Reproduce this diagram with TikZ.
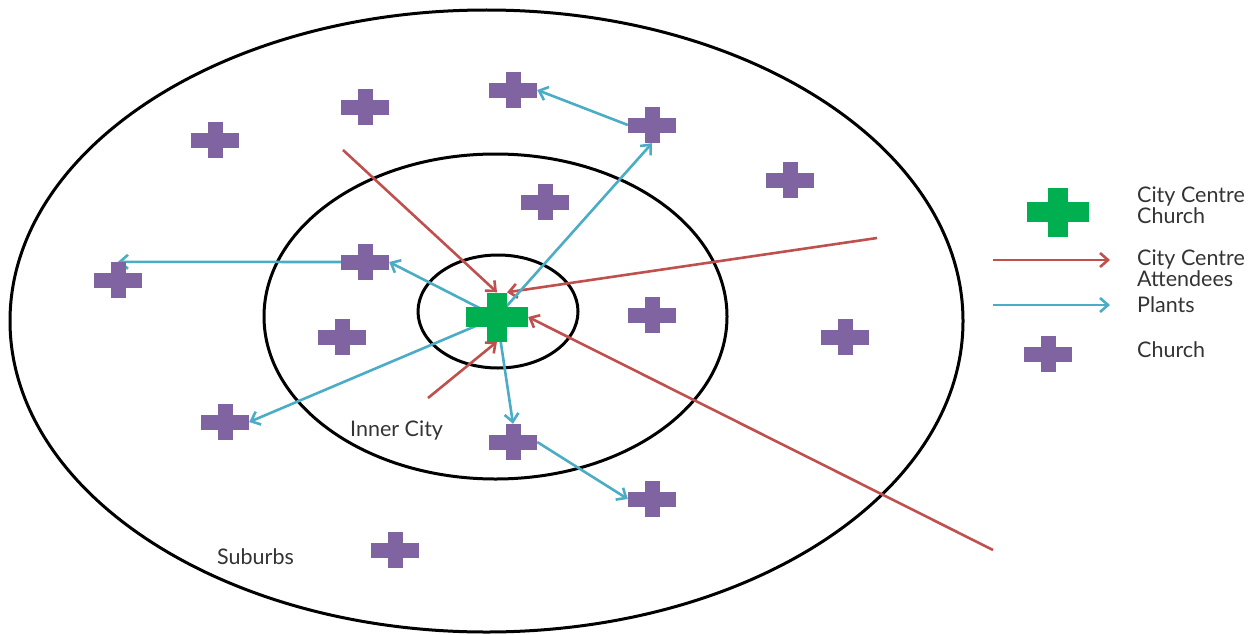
\documentclass[tikz,border=0pt]{standalone}
\usepackage{xcolor}
\usepackage{fontspec}
\setmainfont{Lato}
\usepackage{tikz}
\usetikzlibrary{arrows.meta,positioning,backgrounds}

\definecolor{churchpurple}{HTML}{8064A2}
\definecolor{centregreen}{HTML}{00B050}
\definecolor{attendred}{HTML}{C0504D}
\definecolor{plantblue}{HTML}{4BACC6}

% plus sign inside a node: half width, half height, half arm, colour
\newcommand{\plusshape}[4]{%
  \fill[#4] ([shift={(-#1,-#3)}]path picture bounding box.center) rectangle ([shift={(#1,#3)}]path picture bounding box.center);
  \fill[#4] ([shift={(-#3,-#2)}]path picture bounding box.center) rectangle ([shift={(#3,#2)}]path picture bounding box.center);}

\begin{document}
\begin{tikzpicture}[
    x=1pt, y=-1pt,
    font=\fontsize{21.5}{21.5}\selectfont,
    church/.style={rectangle, minimum width=48pt, minimum height=36pt, inner sep=0pt,
        path picture={\plusshape{24pt}{18pt}{7.5pt}{churchpurple}}},
    centre/.style={rectangle, minimum width=62pt, minimum height=49pt, inner sep=0pt,
        path picture={\plusshape{31pt}{24.5pt}{10pt}{centregreen}}},
    ring/.style={draw=black, line width=3pt},
    attend/.style={-{Straight Barb[length=8pt,width=14pt]}, draw=attendred, line width=2.6pt},
    plant/.style={-{Straight Barb[length=8pt,width=14pt]}, draw=plantblue, line width=2.6pt},
    label/.style={text=black!80, inner sep=0pt, anchor=west, align=left}
]
    \useasboundingbox (0,0) rectangle (1257,634);

    % Rings
    \begin{scope}[on background layer]
        \draw[ring] (486.5,321) ellipse [x radius=476.5, y radius=311];
        \draw[ring] (495.5,316.5) ellipse [x radius=231.5, y radius=162.5];
        \draw[ring] (498,311.5) ellipse [x radius=80, y radius=56.5];
    \end{scope}

    % City centre church
    \node[centre] (cc) at (497,317) {};

    % Churches
    \node[church] (c1) at (215,140) {};
    \node[church] (c2) at (365,107) {};
    \node[church] (c3) at (513,90) {};
    \node[church] (c4) at (652,125) {};
    \node[church] (c5) at (545,202) {};
    \node[church] (c6) at (790,180) {};
    \node[church] (c7) at (118,280) {};
    \node[church] (c8) at (365,262) {};
    \node[church] (c9) at (342,337) {};
    \node[church] (c10) at (652,315) {};
    \node[church] (c11) at (845,337) {};
    \node[church] (c12) at (225,422) {};
    \node[church] (c13) at (513,442) {};
    \node[church] (c14) at (652,499) {};
    \node[church] (c15) at (395,550) {};

    % Ring labels
    \node[label] (inner) at (350,430) {Inner City};
    \node[label] (suburbs) at (217,557) {Suburbs};

    % Attendee starts
    \coordinate (r1) at (343,150);
    \coordinate (r2) at (877,238);
    \coordinate (r3) at (993,550);
    \coordinate (r4) at (428,398);

    % Arrows
    \begin{scope}[on background layer]
        \draw[attend] (r1) -- (cc.north);
        \draw[attend] (r2) -- ([xshift=10pt]cc.north);
        \draw[attend] (r3) -- (cc.east);
        \draw[attend] (r4) -- (cc.south);

        \draw[plant, shorten <=14pt] (cc.center) -- (c8.east);
        \draw[plant, shorten <=10pt] (cc.center) -- (c4.south);
        \draw[plant, shorten <=22pt] (cc.center) -- (c12.east);
        \draw[plant, shorten <=16pt] (cc.center) -- (c13.north);
        \draw[plant] (c8.west) -- (c7.north);
        \draw[plant] (c4.west) -- (c3.east);
        \draw[plant] (c13.east) -- (c14.west);
    \end{scope}

    % Legend
    \node[centre] (keycc) at (1058,212) {};
    \coordinate (keyra) at (993,260);
    \coordinate (keyrb) at (1110,260);
    \coordinate (keypa) at (993,305);
    \coordinate (keypb) at (1110,305);
    \node[church] (keych) at (1048,354) {};
    \draw[attend] (keyra) -- (keyrb);
    \draw[plant] (keypa) -- (keypb);

    \node[label] (keycctext) at (1137,205) {City Centre\\Church};
    \node[label] (keyratext) at (1137,268) {City Centre\\Attendees};
    \node[label] (keyptext) at (1137,305) {Plants};
    \node[label] (keychtext) at (1137,350) {Church};

\end{tikzpicture}
\end{document}
